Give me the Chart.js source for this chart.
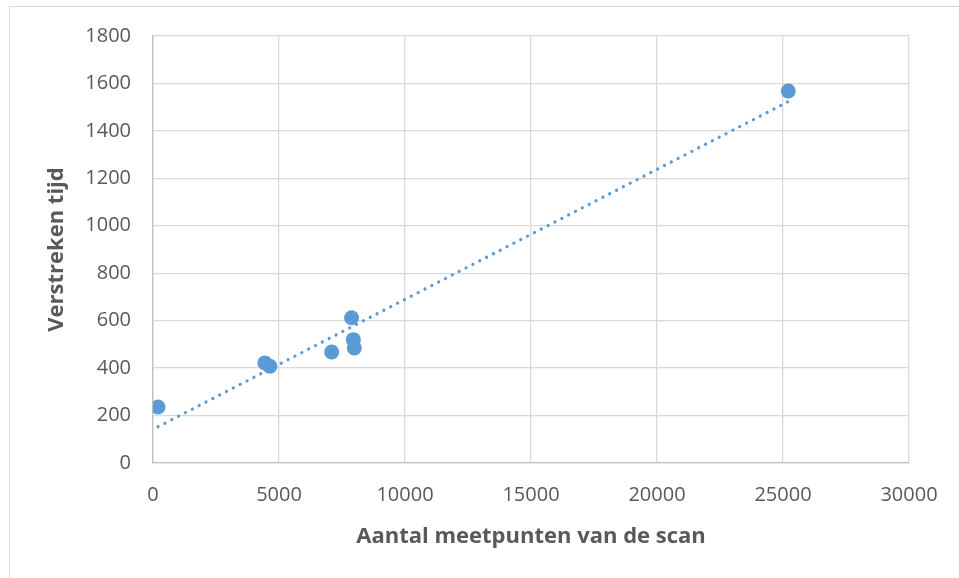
<!DOCTYPE html>
<html>
<head>
<meta charset="utf-8">
<script src="https://cdn.jsdelivr.net/npm/chart.js@4/dist/chart.umd.min.js"></script>
<style>
    html, body { margin: 0; padding: 0; background: #fff; overflow: hidden; }
    #frame {
        position: absolute; left: 9px; top: 6px; width: 1000px; height: 600px;
        border: 1px solid #d9d9d9;
    }
    #wrap { position: absolute; left: 0; top: 0; width: 959px; height: 578px; }
</style>
</head>
<body>
<div id="frame"></div>
<div id="wrap"><canvas id="scanChart"></canvas></div>
<script>
// aantal meetpunten (x) en verstreken tijd (y)
const meetpunten = [200, 4440, 4640, 7090, 7880, 7950, 7990, 25210];
const verstreken = [236, 422, 408, 468, 612, 520, 485, 1568];

const xTicks = [0, 5000, 10000, 15000, 20000, 25000, 30000];
const yTicks = [0, 200, 400, 600, 800, 1000, 1200, 1400, 1600, 1800];

const blue = '#5B9BD5';
const grey = '#595959';

// lineaire trendlijn (kleinste kwadraten), zoals in Excel
function trendLine(xs, ys) {
    const n = xs.length;
    const mx = xs.reduce((a, b) => a + b, 0) / n;
    const my = ys.reduce((a, b) => a + b, 0) / n;
    let sxy = 0, sxx = 0;
    for (let i = 0; i < n; i++) {
        sxy += (xs[i] - mx) * (ys[i] - my);
        sxx += (xs[i] - mx) * (xs[i] - mx);
    }
    const b = sxy / sxx;
    const a = my - b * mx;
    const x0 = Math.min(...xs), x1 = Math.max(...xs);
    return [{ x: x0, y: a + b * x0 }, { x: x1, y: a + b * x1 }];
}

const points = meetpunten.map((x, i) => ({ x: x, y: verstreken[i] }));

const ctx = document.getElementById('scanChart').getContext('2d');
new Chart(ctx, {
    type: 'scatter',
    data: {
        datasets: [{
            label: 'Verstreken tijd',
            data: points,
            backgroundColor: blue,
            borderWidth: 0,
            pointRadius: 7.5,
            order: 2
        }, {
            type: 'line',
            label: 'Trend',
            data: trendLine(meetpunten, verstreken),
            borderColor: blue,
            borderWidth: 3.2,
            borderDash: [0.1, 7.6],
            borderCapStyle: 'round',
            pointRadius: 0,
            fill: false,
            order: 1
        }]
    },
    options: {
        responsive: true,
        maintainAspectRatio: false,
        animation: false,
        layout: { padding: { left: 40, top: 36, right: 50, bottom: 24 } },
        plugins: {
            legend: { display: false },
            tooltip: { enabled: false }
        },
        scales: {
            x: {
                type: 'linear',
                min: 0,
                max: 30000,
                afterBuildTicks: function (scale) {
                    scale.ticks = xTicks.map(v => ({ value: v }));
                },
                afterFit: function (scale) { scale.height = 91; },
                grid: { color: '#d9d9d9', lineWidth: 1.3, drawTicks: false },
                border: { color: '#bfbfbf', width: 1.3 },
                ticks: {
                    color: grey,
                    padding: 20,
                    maxRotation: 0,
                    font: { family: 'Open Sans', size: 20 },
                    callback: function (value) { return String(value); }
                },
                title: {
                    display: true,
                    text: 'Aantal meetpunten van de scan',
                    color: grey,
                    font: { family: 'Open Sans', size: 22, weight: 'bold' }
                }
            },
            y: {
                min: 0,
                max: 1800,
                afterBuildTicks: function (scale) {
                    scale.ticks = yTicks.map(v => ({ value: v }));
                },
                afterFit: function (scale) { scale.width = 113; },
                grid: { color: '#d9d9d9', lineWidth: 1.3, drawTicks: false },
                border: { color: '#bfbfbf', width: 1.3 },
                ticks: {
                    color: grey,
                    padding: 22,
                    font: { family: 'Open Sans', size: 20 },
                    callback: function (value) { return String(value); }
                },
                title: {
                    display: true,
                    text: 'Verstreken tijd',
                    color: grey,
                    font: { family: 'Open Sans', size: 22, weight: 'bold' }
                }
            }
        }
    }
});
</script>
</body>
</html>
